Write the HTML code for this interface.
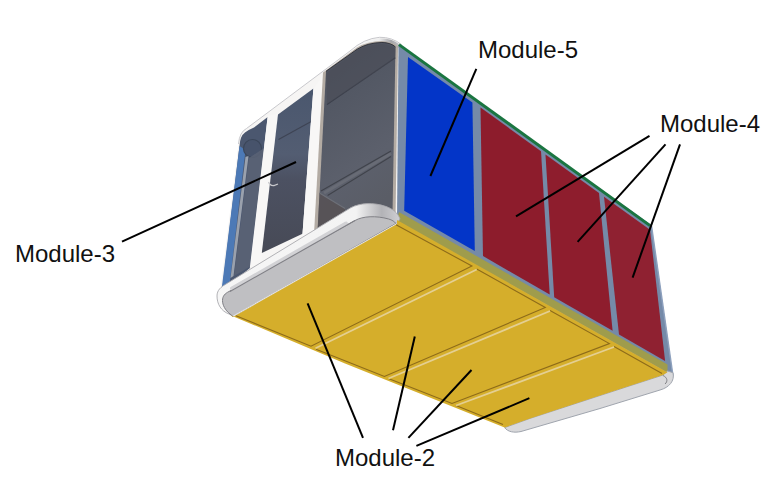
<!DOCTYPE html>
<html><head><meta charset="utf-8">
<style>
html,body{margin:0;padding:0;background:#fff;}
svg{display:block;}
text{font-family:"Liberation Sans",sans-serif;font-size:24px;fill:#111;}
</style></head>
<body>
<svg width="781" height="501" viewBox="0 0 781 501">
<defs>
<linearGradient id="glass3" x1="0" y1="0" x2="0.3" y2="1">
<stop offset="0" stop-color="#4c505c"/>
<stop offset="0.35" stop-color="#535864"/>
<stop offset="0.75" stop-color="#5c606c"/>
<stop offset="1" stop-color="#5a5d66"/>
</linearGradient>
<linearGradient id="glass2" x1="0" y1="0" x2="0" y2="1">
<stop offset="0" stop-color="#4a576e"/>
<stop offset="0.4" stop-color="#535d72"/>
<stop offset="0.55" stop-color="#4c5162"/>
<stop offset="1" stop-color="#474a56"/>
</linearGradient>
<linearGradient id="glass1" x1="0" y1="0" x2="0" y2="1">
<stop offset="0" stop-color="#50607a"/>
<stop offset="1" stop-color="#56627a"/>
</linearGradient>
<linearGradient id="roofTop" x1="0" y1="0" x2="1" y2="0">
<stop offset="0" stop-color="#f4f4f4"/>
<stop offset="0.55" stop-color="#efefef"/>
<stop offset="0.8" stop-color="#a5a5a9"/>
<stop offset="1" stop-color="#c4c5c9"/>
</linearGradient>
<linearGradient id="slabTop" x1="0" y1="0" x2="1" y2="0">
<stop offset="0" stop-color="#f6f6f6"/>
<stop offset="0.76" stop-color="#f3f3f3"/>
<stop offset="0.9" stop-color="#b3b3b7"/>
<stop offset="1" stop-color="#cfcfd3"/>
</linearGradient>
</defs>
<rect width="781" height="501" fill="#fff"/>

<!-- ===== left cabin part ===== -->
<!-- whole frame silhouette (white) -->
<path d="M220,292 L238.5,144 Q239.5,132 246.5,128.5 L350,51 Q364,38.5 379.6,37.3 Q392,37 401.8,44.8 L400,222 L222,300 Z" fill="#f6f5f4"/>
<path d="M238.5,144 Q239.5,132 246.5,128.5 L350,51 Q364,38.5 379.6,37.3 Q392,37 401.8,44.8" fill="none" stroke="#c8c8cc" stroke-width="1"/>
<!-- roof top metallic area right -->
<path d="M352,50 Q365,39.5 379.6,38.3 Q392,38 401,45.5 L398.5,48 Q391,42.5 380,42 Q368,42 359,46 Z" fill="url(#roofTop)"/>
<!-- window 1 region -->
<path d="M239.5,146 Q240,136 245,132.5 Q249,129.5 254,127.5 L267.7,117 L250,268 L222,291 Z" fill="#4b576f"/>
<path d="M239.5,146 L245.5,150 L230,281 L221.5,290 Z" fill="#4c79b6"/>
<circle cx="252.5" cy="148.5" r="9" fill="#47536b" stroke="#3b4659" stroke-width="1.2"/>
<path d="M245.5,157 L248.5,156 L233.5,276 L230.5,278 Z" fill="#9aa1ad"/>
<path d="M249,158 L264,148 L251,266 L234,276 Z" fill="#5a6376" opacity="0.85"/>
<!-- pillar 1 -->
<path d="M267.7,116 L278,113.5 L261.5,262 L249.8,268 Z" fill="#f8f7f6"/>
<!-- window 2 glass -->
<path d="M278,114.4 L313.4,88.5 L302.5,233.8 L261.8,253 Z" fill="url(#glass2)"/>
<path d="M278.5,139.5 L313,120.5" stroke="#3e4454" stroke-width="1.2" fill="none"/>
<path d="M268.5,182 Q270,186 274,185.5 L278,184" stroke="#c8c8cc" stroke-width="1.3" fill="none"/>
<!-- pillar 2 -->
<path d="M313.4,88.5 L326,71 L315,232 L300,238 L302.5,233.8 Z" fill="#f8f7f6"/>
<!-- big window frame + glass -->
<path d="M323,72.5 L357,47.5 Q368,41 381.9,41 Q393,41.5 398,46.5 L395.5,218 L314,234 Z" fill="#b3aba3"/>
<path d="M326,71.3 L357.5,49 Q368,42.8 381.9,42.5 Q391,42.7 395.5,47 L392.5,214 L317.5,232 Z" fill="url(#glass3)"/>
<path d="M326,71.3 L357.5,49 Q368,42.8 381.9,42.5 Q391,42.7 395.5,47" stroke="#33353d" stroke-width="1" fill="none"/>
<path d="M327,104.5 L395.2,57.8" stroke="#3b3f4b" stroke-width="1.2" fill="none"/>
<path d="M326.5,73 L357.5,50.5 Q368,44 382,44 Q391,44.5 395.5,48.5 L395.3,58.5 L327,104.5 Z" fill="#484a54" opacity="0.5"/>

<path d="M319.5,193 L345,208.5 L343,232 L317.5,232 Z" fill="#554f50" opacity="0.7"/>
<path d="M319.5,193 L345,208.5" stroke="#6d7078" stroke-width="1.2" fill="none"/>
<path d="M324,193 L391,153.5" stroke="#6f737c" stroke-width="3" fill="none" opacity="0.6"/>
<path d="M321,191 L391,151 M327.6,195.5 L391,156.5" stroke="#40434b" stroke-width="1.1" fill="none"/>

<!-- ===== side wall ===== -->
<path d="M398.5,45 L651.5,225 L673,376 L397,221 Z" fill="#758aa8"/>
<path d="M651.5,226 L673,376" stroke="#8da0bd" stroke-width="1.5" fill="none"/>
<!-- blue panel -->
<path d="M408,57 L472.4,102.4 L474.8,251 L404.2,210.7 Z" fill="#0335c8"/>
<!-- red panels -->
<path d="M480.5,107.6 L541,151.2 L549.7,294.6 L483,256.1 Z" fill="#8d1c2c"/>
<path d="M545.5,154.4 L599,193 L612.6,330.8 L554.2,297.2 Z" fill="#8e1d2d"/>
<path d="M604,196.8 L650,229.8 L665.1,361.1 L619,334.5 Z" fill="#8f2131"/>
<!-- green top line -->
<path d="M399,44.6 L650,225.6" stroke="#1a7540" stroke-width="3" fill="none"/>
<!-- olive base strip -->
<path d="M399,212 L667.5,364.5 L667.5,372.3 L397,220.5 Z" fill="#9f9c4c"/>

<!-- ===== floor slab (left/front) ===== -->
<path d="M229,314 C221,311 217,304 217,296 C217,290 221,287 226,284 L351,207.6 C360,203 373,202 386,206.5 C393,209 398,213 400,219 L397,223 L233,316 Z" fill="url(#slabTop)" stroke="#a9a9ae" stroke-width="0.9"/>
<path d="M230,314 C225,310 222.5,305 222.5,300.5 C222.5,296 225,293.5 229,291.5 L355,220.5 C363,216 376,215.5 388.7,219 C392,220 394.5,221.5 396,223.5 L233,316.5 Z" fill="#bfbfc2" stroke="#808086" stroke-width="1"/>
<path d="M232,288.5 L346,223.5" stroke="#d2d2d5" stroke-width="4" stroke-linecap="round" fill="none"/>
<path d="M230,291.5 L355,220.5" stroke="#808086" stroke-width="1.1" fill="none"/>
<path d="M233,316.3 L397,223.8" stroke="#e6e6e8" stroke-width="1.2" fill="none"/>

<!-- floor bottom strip (right/back) -->
<path d="M504.6,427.6 L530,418.4 L600,395.5 L663,375 L667.5,371 L673,372.7 C675,381 669,387.5 660,390 L600,408.5 L521,431.5 C514,433 508,432 504.6,427.6 Z" fill="#d9d9db" stroke="#a0a5ae" stroke-width="1"/>
<path d="M663,375.5 C667.5,377.5 668,381.5 665,384" fill="none" stroke="#77777c" stroke-width="0.9"/>

<!-- yellow floor -->
<path d="M230.5,315.2 L233,317 L397,224 L397,220 L667.5,372.3 L663,375 L600,395.5 L530,418.4 L504.6,427.6 L345,363.5 Z" fill="#d5ae2b"/>
<!-- panel borders -->
<g fill="none" stroke="#8d6b1a" stroke-width="1.1">
<path d="M396,224.8 L471.9,266 L311,346.2 L236,315.8"/>
<path d="M476.7,269 L545.3,307.4 L384.4,376.5 L316,349.2"/>
<path d="M550,310.6 L609.4,343.6 L452,403.5 L389,378.8"/>
<path d="M614,346.5 L662,373.5 M456,405.5 L503,424.5"/>
</g>
<g fill="none" stroke="#e4cf92" stroke-width="1.8">
<path d="M476.7,269.5 L315.5,348.3"/>
<path d="M550,311 L388.5,378.5"/>
<path d="M614,347 L456,405.5"/>
</g>

<!-- label lines -->
<g stroke="#000" stroke-width="2" fill="none">
<path d="M430.4,176 L476.3,68.8"/>
<path d="M649.5,135.8 L516,216.3"/>
<path d="M665.5,144.4 L577.6,241.8"/>
<path d="M680,144.4 L632.6,277.6"/>
<path d="M122,241.7 L296,162"/>
<path d="M307.6,303.4 L363,437.9"/>
<path d="M414.8,336.4 L393,430.2"/>
<path d="M471.5,370 L408.4,437.9"/>
<path d="M529.4,398.2 L416.4,445.9"/>
</g>
<text x="478" y="57.5">Module-5</text>
<text x="660" y="132">Module-4</text>
<text x="15" y="261.5">Module-3</text>
<text x="335" y="465.5">Module-2</text>
</svg>
</body></html>
